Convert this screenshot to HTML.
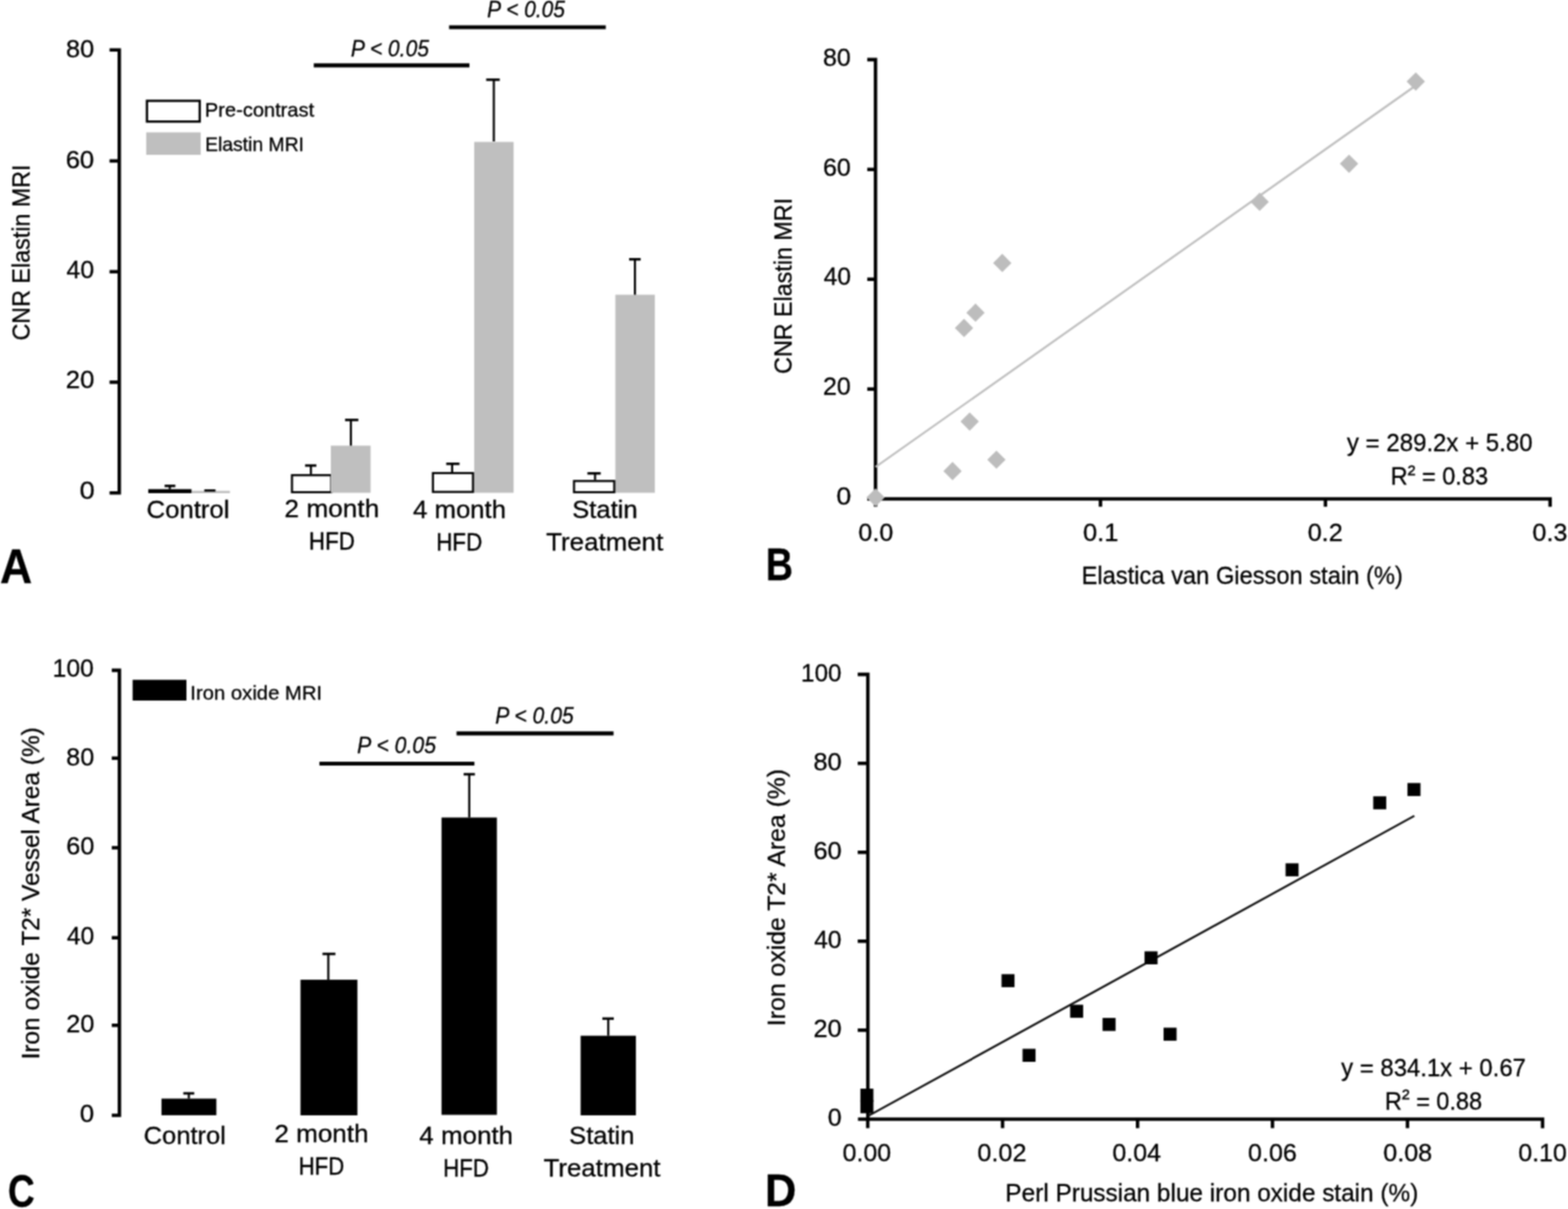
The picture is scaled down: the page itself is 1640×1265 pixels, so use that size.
<!DOCTYPE html>
<html lang="en">
<head>
<meta charset="utf-8">
<title>Elastin and iron oxide MRI figure</title>
<style>
html,body{margin:0;padding:0;background:#fff;}
body{width:1640px;height:1265px;overflow:hidden;}
svg{display:block;}
text{font-family:'Liberation Sans', sans-serif;fill:#000;stroke:#000;stroke-width:0.3px;}
</style>
</head>
<body>
<svg width="1640" height="1265" viewBox="0 0 1640 1265">
<defs>
<filter id="soft" x="0" y="0" width="1640" height="1265" filterUnits="userSpaceOnUse" color-interpolation-filters="sRGB">
<feConvolveMatrix order="3" kernelMatrix="1 2 1 2 4 2 1 2 1" divisor="16" edgeMode="duplicate"/>
</filter>
</defs>
<g filter="url(#soft)">
<rect x="0" y="0" width="1640" height="1265" fill="#fff"/>
<g id="graphics">
<path d="M114.6 52.3 H124.75 V515.8 H114.6" fill="none" stroke="#000" stroke-width="3.6" stroke-linejoin="miter"/>
<line x1="114.6" y1="168.4" x2="124.75" y2="168.4" stroke="#000" stroke-width="3.6" stroke-linecap="butt"/>
<line x1="114.6" y1="284.3" x2="124.75" y2="284.3" stroke="#000" stroke-width="3.6" stroke-linecap="butt"/>
<line x1="114.6" y1="399.9" x2="124.75" y2="399.9" stroke="#000" stroke-width="3.6" stroke-linecap="butt"/>
<rect x="153.70" y="105.50" width="55.20" height="21.70" fill="#fff" stroke="#000" stroke-width="2.4"/>
<rect x="152.9" y="138.5" width="57.00" height="23.50" fill="#bfbfbf"/>
<line x1="328.2" y1="68.4" x2="491.0" y2="68.4" stroke="#000" stroke-width="4.2" stroke-linecap="butt"/>
<line x1="469.7" y1="28.5" x2="633.6" y2="28.5" stroke="#000" stroke-width="4.2" stroke-linecap="butt"/>
<rect x="200.5" y="513.6" width="40.00" height="2.40" fill="#bfbfbf"/>
<rect x="496.0" y="148.5" width="41.20" height="367.10" fill="#bfbfbf"/>
<rect x="643.6" y="308.4" width="41.30" height="207.20" fill="#bfbfbf"/>
<rect x="156.20" y="512.90" width="43.00" height="2.00" fill="#fff" stroke="#000" stroke-width="2.2"/>
<rect x="305.40" y="497.20" width="41.10" height="17.80" fill="#fff" stroke="#000" stroke-width="2.2"/>
<rect x="346.0" y="466.3" width="41.60" height="49.30" fill="#bfbfbf"/>
<rect x="452.80" y="495.00" width="41.90" height="19.70" fill="#fff" stroke="#000" stroke-width="2.2"/>
<rect x="600.40" y="503.30" width="42.10" height="11.70" fill="#fff" stroke="#000" stroke-width="2.2"/>
<line x1="177.6" y1="511.8" x2="177.6" y2="508.4" stroke="#000" stroke-width="2.2" stroke-linecap="butt"/>
<line x1="172.2" y1="508.4" x2="183.4" y2="508.4" stroke="#000" stroke-width="2.6" stroke-linecap="butt"/>
<line x1="213.7" y1="513.2" x2="225.4" y2="513.2" stroke="#000" stroke-width="2.4" stroke-linecap="butt"/>
<line x1="325.2" y1="496.1" x2="325.2" y2="487.1" stroke="#000" stroke-width="2.2" stroke-linecap="butt"/>
<line x1="319.1" y1="487.1" x2="330.9" y2="487.1" stroke="#000" stroke-width="2.6" stroke-linecap="butt"/>
<line x1="367.0" y1="466.3" x2="367.0" y2="439.4" stroke="#000" stroke-width="2.2" stroke-linecap="butt"/>
<line x1="360.9" y1="439.4" x2="374.8" y2="439.4" stroke="#000" stroke-width="2.6" stroke-linecap="butt"/>
<line x1="472.9" y1="494.3" x2="472.9" y2="485.3" stroke="#000" stroke-width="2.2" stroke-linecap="butt"/>
<line x1="466.7" y1="485.3" x2="480.6" y2="485.3" stroke="#000" stroke-width="2.6" stroke-linecap="butt"/>
<line x1="516.5" y1="148.0" x2="516.5" y2="83.4" stroke="#000" stroke-width="2.2" stroke-linecap="butt"/>
<line x1="508.5" y1="83.4" x2="522.7" y2="83.4" stroke="#000" stroke-width="2.6" stroke-linecap="butt"/>
<line x1="622.4" y1="502.2" x2="622.4" y2="495.3" stroke="#000" stroke-width="2.2" stroke-linecap="butt"/>
<line x1="614.4" y1="495.3" x2="628.3" y2="495.3" stroke="#000" stroke-width="2.6" stroke-linecap="butt"/>
<line x1="664.1" y1="308.4" x2="664.1" y2="271.3" stroke="#000" stroke-width="2.2" stroke-linecap="butt"/>
<line x1="658.0" y1="271.3" x2="670.1" y2="271.3" stroke="#000" stroke-width="2.6" stroke-linecap="butt"/>
<path d="M907.1 62.4 H915.7 V522.0 H1621.3 V530.2" fill="none" stroke="#000" stroke-width="3.6" stroke-linejoin="miter"/>
<line x1="907.1" y1="177.3" x2="915.7" y2="177.3" stroke="#000" stroke-width="3.6" stroke-linecap="butt"/>
<line x1="907.1" y1="292.2" x2="915.7" y2="292.2" stroke="#000" stroke-width="3.6" stroke-linecap="butt"/>
<line x1="907.1" y1="407.1" x2="915.7" y2="407.1" stroke="#000" stroke-width="3.6" stroke-linecap="butt"/>
<line x1="907.1" y1="522.0" x2="915.7" y2="522.0" stroke="#000" stroke-width="3.6" stroke-linecap="butt"/>
<line x1="915.7" y1="522.0" x2="915.7" y2="530.2" stroke="#000" stroke-width="3.6" stroke-linecap="butt"/>
<line x1="1151.0" y1="522.0" x2="1151.0" y2="530.2" stroke="#000" stroke-width="3.6" stroke-linecap="butt"/>
<line x1="1386.3" y1="522.0" x2="1386.3" y2="530.2" stroke="#000" stroke-width="3.6" stroke-linecap="butt"/>
<line x1="915.7" y1="488.7" x2="1480.8" y2="89.5" stroke="#c0c0c0" stroke-width="2.2" stroke-linecap="butt"/>
<path d="M915.8 510.90 L925.40 520.5 L915.8 530.10 L906.20 520.5 Z" fill="#bdbdbd"/>
<path d="M996.3 483.30 L1005.90 492.9 L996.3 502.50 L986.70 492.9 Z" fill="#bdbdbd"/>
<path d="M1008.3 333.60 L1017.90 343.2 L1008.3 352.80 L998.70 343.2 Z" fill="#bdbdbd"/>
<path d="M1014.2 431.50 L1023.80 441.1 L1014.2 450.70 L1004.60 441.1 Z" fill="#bdbdbd"/>
<path d="M1020.3 317.60 L1029.90 327.2 L1020.3 336.80 L1010.70 327.2 Z" fill="#bdbdbd"/>
<path d="M1042.2 471.40 L1051.80 481.0 L1042.2 490.60 L1032.60 481.0 Z" fill="#bdbdbd"/>
<path d="M1048.3 265.60 L1057.90 275.2 L1048.3 284.80 L1038.70 275.2 Z" fill="#bdbdbd"/>
<path d="M1317.5 201.60 L1327.10 211.2 L1317.5 220.80 L1307.90 211.2 Z" fill="#bdbdbd"/>
<path d="M1411.0 161.70 L1420.60 171.3 L1411.0 180.90 L1401.40 171.3 Z" fill="#bdbdbd"/>
<path d="M1480.8 75.70 L1490.40 85.3 L1480.8 94.90 L1471.20 85.3 Z" fill="#bdbdbd"/>
<path d="M116.9 701.4 H124.9 V1167.0 H116.9" fill="none" stroke="#000" stroke-width="3.6" stroke-linejoin="miter"/>
<line x1="116.9" y1="793.3" x2="124.9" y2="793.3" stroke="#000" stroke-width="3.6" stroke-linecap="butt"/>
<line x1="116.9" y1="887.0" x2="124.9" y2="887.0" stroke="#000" stroke-width="3.6" stroke-linecap="butt"/>
<line x1="116.9" y1="981.2" x2="124.9" y2="981.2" stroke="#000" stroke-width="3.6" stroke-linecap="butt"/>
<line x1="116.9" y1="1072.8" x2="124.9" y2="1072.8" stroke="#000" stroke-width="3.6" stroke-linecap="butt"/>
<rect x="138.7" y="711.3" width="56.30" height="21.70" fill="#000"/>
<line x1="334.1" y1="799.0" x2="496.2" y2="799.0" stroke="#000" stroke-width="4.2" stroke-linecap="butt"/>
<line x1="477.5" y1="767.3" x2="641.7" y2="767.3" stroke="#000" stroke-width="4.2" stroke-linecap="butt"/>
<rect x="168.9" y="1149.5" width="57.40" height="17.40" fill="#000"/>
<rect x="314.3" y="1025.1" width="59.50" height="141.90" fill="#000"/>
<rect x="461.8" y="855.4" width="57.90" height="311.10" fill="#000"/>
<rect x="607.3" y="1083.7" width="57.80" height="83.30" fill="#000"/>
<line x1="197.5" y1="1149.5" x2="197.5" y2="1144.0" stroke="#000" stroke-width="2.2" stroke-linecap="butt"/>
<line x1="191.7" y1="1144.0" x2="203.2" y2="1144.0" stroke="#000" stroke-width="2.6" stroke-linecap="butt"/>
<line x1="343.4" y1="1025.1" x2="343.4" y2="998.1" stroke="#000" stroke-width="2.2" stroke-linecap="butt"/>
<line x1="337.3" y1="998.1" x2="350.8" y2="998.1" stroke="#000" stroke-width="2.6" stroke-linecap="butt"/>
<line x1="490.8" y1="855.4" x2="490.8" y2="810.1" stroke="#000" stroke-width="2.2" stroke-linecap="butt"/>
<line x1="484.9" y1="810.1" x2="496.7" y2="810.1" stroke="#000" stroke-width="2.6" stroke-linecap="butt"/>
<line x1="636.2" y1="1083.7" x2="636.2" y2="1065.8" stroke="#000" stroke-width="2.2" stroke-linecap="butt"/>
<line x1="630.0" y1="1065.8" x2="642.0" y2="1065.8" stroke="#000" stroke-width="2.6" stroke-linecap="butt"/>
<path d="M897.1 705.6 H907.7 V1171.0" fill="none" stroke="#000" stroke-width="3.6" stroke-linejoin="miter"/>
<line x1="897.1" y1="798.7" x2="907.7" y2="798.7" stroke="#000" stroke-width="3.6" stroke-linecap="butt"/>
<line x1="897.1" y1="891.8" x2="907.7" y2="891.8" stroke="#000" stroke-width="3.6" stroke-linecap="butt"/>
<line x1="897.1" y1="984.8" x2="907.7" y2="984.8" stroke="#000" stroke-width="3.6" stroke-linecap="butt"/>
<line x1="897.1" y1="1077.9" x2="907.7" y2="1077.9" stroke="#000" stroke-width="3.6" stroke-linecap="butt"/>
<path d="M897.4 1171.0 H1613.4 V1180.4" fill="none" stroke="#000" stroke-width="3.6" stroke-linejoin="miter"/>
<line x1="907.6" y1="1171.0" x2="907.6" y2="1180.4" stroke="#000" stroke-width="3.6" stroke-linecap="butt"/>
<line x1="1048.6" y1="1171.0" x2="1048.6" y2="1180.4" stroke="#000" stroke-width="3.6" stroke-linecap="butt"/>
<line x1="1189.8" y1="1171.0" x2="1189.8" y2="1180.4" stroke="#000" stroke-width="3.6" stroke-linecap="butt"/>
<line x1="1330.9" y1="1171.0" x2="1330.9" y2="1180.4" stroke="#000" stroke-width="3.6" stroke-linecap="butt"/>
<line x1="1472.1" y1="1171.0" x2="1472.1" y2="1180.4" stroke="#000" stroke-width="3.6" stroke-linecap="butt"/>
<line x1="907.6" y1="1167.9" x2="1479.3" y2="853.6" stroke="#111" stroke-width="2.2" stroke-linecap="butt"/>
<rect x="899.9" y="1139.1" width="13.60" height="13.60" fill="#000"/>
<rect x="899.9" y="1151.2" width="13.60" height="13.60" fill="#000"/>
<rect x="1047.5" y="1019.3" width="13.60" height="13.60" fill="#000"/>
<rect x="1069.5" y="1097.4" width="13.60" height="13.60" fill="#000"/>
<rect x="1119.3" y="1051.3" width="13.60" height="13.60" fill="#000"/>
<rect x="1153.2" y="1065.1" width="13.60" height="13.60" fill="#000"/>
<rect x="1197.1" y="995.4" width="13.60" height="13.60" fill="#000"/>
<rect x="1217.0" y="1075.3" width="13.60" height="13.60" fill="#000"/>
<rect x="1344.6" y="903.3" width="13.60" height="13.60" fill="#000"/>
<rect x="1436.3" y="833.2" width="13.60" height="13.60" fill="#000"/>
<rect x="1472.1" y="819.3" width="13.60" height="13.60" fill="#000"/>
</g>
<g id="texts">
<text x="68.97" y="59.64" font-size="26.48" textLength="29.47" lengthAdjust="spacingAndGlyphs">80</text>
<text x="68.68" y="175.54" font-size="26.20" textLength="29.82" lengthAdjust="spacingAndGlyphs">60</text>
<text x="69.46" y="291.44" font-size="26.20" textLength="28.90" lengthAdjust="spacingAndGlyphs">40</text>
<text x="68.74" y="406.04" font-size="25.63" textLength="29.93" lengthAdjust="spacingAndGlyphs">20</text>
<text x="83.26" y="522.05" font-size="25.35" textLength="15.84" lengthAdjust="spacingAndGlyphs">0</text>
<text x="30.70" y="356.27" font-size="26.23" textLength="184.17" lengthAdjust="spacingAndGlyphs" transform="rotate(-90 30.70 356.27)">CNR Elastin MRI</text>
<text x="214.28" y="122.40" font-size="20.43" textLength="114.33" lengthAdjust="spacingAndGlyphs">Pre-contrast</text>
<text x="214.42" y="158.31" font-size="19.32" textLength="103.57" lengthAdjust="spacingAndGlyphs">Elastin MRI</text>
<text x="367.01" y="58.56" font-size="24.37" font-style="italic" textLength="81.62" lengthAdjust="spacingAndGlyphs">P &lt; 0.05</text>
<text x="509.62" y="18.46" font-size="24.08" font-style="italic" textLength="81.37" lengthAdjust="spacingAndGlyphs">P &lt; 0.05</text>
<text x="153.25" y="541.94" font-size="26.35" textLength="86.81" lengthAdjust="spacingAndGlyphs">Control</text>
<text x="297.63" y="540.94" font-size="26.08" textLength="99.01" lengthAdjust="spacingAndGlyphs">2 month</text>
<text x="323.06" y="574.90" font-size="24.93" textLength="48.16" lengthAdjust="spacingAndGlyphs">HFD</text>
<text x="431.94" y="542.14" font-size="25.68" textLength="97.42" lengthAdjust="spacingAndGlyphs">4 month</text>
<text x="456.13" y="575.70" font-size="25.07" textLength="48.27" lengthAdjust="spacingAndGlyphs">HFD</text>
<text x="598.55" y="542.05" font-size="25.00" textLength="68.36" lengthAdjust="spacingAndGlyphs">Statin</text>
<text x="571.34" y="576.03" font-size="26.57" textLength="122.34" lengthAdjust="spacingAndGlyphs">Treatment</text>
<text x="0.08" y="609.59" font-size="49.12" font-weight="bold" textLength="33.65" lengthAdjust="spacingAndGlyphs">A</text>
<text x="860.80" y="68.64" font-size="26.48" textLength="29.16" lengthAdjust="spacingAndGlyphs">80</text>
<text x="860.76" y="183.54" font-size="26.48" textLength="29.18" lengthAdjust="spacingAndGlyphs">60</text>
<text x="861.45" y="298.44" font-size="26.48" textLength="28.66" lengthAdjust="spacingAndGlyphs">40</text>
<text x="860.73" y="413.34" font-size="26.48" textLength="29.17" lengthAdjust="spacingAndGlyphs">20</text>
<text x="874.65" y="528.43" font-size="26.62" textLength="15.58" lengthAdjust="spacingAndGlyphs">0</text>
<text x="897.86" y="565.54" font-size="26.48" textLength="36.38" lengthAdjust="spacingAndGlyphs">0.0</text>
<text x="1132.85" y="565.54" font-size="26.48" textLength="36.92" lengthAdjust="spacingAndGlyphs">0.1</text>
<text x="1367.66" y="565.54" font-size="26.48" textLength="36.77" lengthAdjust="spacingAndGlyphs">0.2</text>
<text x="1602.83" y="565.54" font-size="26.48" textLength="36.57" lengthAdjust="spacingAndGlyphs">0.3</text>
<text x="828.40" y="391.20" font-size="25.51" textLength="184.15" lengthAdjust="spacingAndGlyphs" transform="rotate(-90 828.40 391.20)">CNR Elastin MRI</text>
<text x="1131.29" y="610.90" font-size="25.65" textLength="335.87" lengthAdjust="spacingAndGlyphs">Elastica van Giesson stain (%)</text>
<text x="1408.72" y="471.60" font-size="26.23" textLength="194.28" lengthAdjust="spacingAndGlyphs">y = 289.2x + 5.80</text>
<text x="1454.40" y="507.30" font-size="25.94" textLength="101.94" lengthAdjust="spacingAndGlyphs">R<tspan dy="-0.135em">²</tspan><tspan dy="0.135em"> = 0.83</tspan></text>
<text x="801.04" y="607.40" font-size="48.41" font-weight="bold" textLength="28.34" lengthAdjust="spacingAndGlyphs">B</text>
<text x="55.08" y="707.64" font-size="26.48" textLength="42.99" lengthAdjust="spacingAndGlyphs">100</text>
<text x="69.37" y="800.54" font-size="26.20" textLength="29.10" lengthAdjust="spacingAndGlyphs">80</text>
<text x="69.27" y="894.24" font-size="26.20" textLength="29.38" lengthAdjust="spacingAndGlyphs">60</text>
<text x="69.90" y="988.44" font-size="26.20" textLength="28.52" lengthAdjust="spacingAndGlyphs">40</text>
<text x="69.16" y="1080.04" font-size="26.20" textLength="29.45" lengthAdjust="spacingAndGlyphs">20</text>
<text x="83.42" y="1174.24" font-size="25.92" textLength="14.96" lengthAdjust="spacingAndGlyphs">0</text>
<text x="41.00" y="1108.51" font-size="25.65" textLength="347.64" lengthAdjust="spacingAndGlyphs" transform="rotate(-90 41.00 1108.51)">Iron oxide T2* Vessel Area (%)</text>
<text x="199.13" y="731.89" font-size="20.54" textLength="137.80" lengthAdjust="spacingAndGlyphs">Iron oxide MRI</text>
<text x="373.48" y="788.46" font-size="24.23" font-style="italic" textLength="82.64" lengthAdjust="spacingAndGlyphs">P &lt; 0.05</text>
<text x="517.91" y="757.36" font-size="24.23" font-style="italic" textLength="82.18" lengthAdjust="spacingAndGlyphs">P &lt; 0.05</text>
<text x="150.37" y="1196.75" font-size="25.27" textLength="85.81" lengthAdjust="spacingAndGlyphs">Control</text>
<text x="286.90" y="1194.94" font-size="25.95" textLength="98.65" lengthAdjust="spacingAndGlyphs">2 month</text>
<text x="312.23" y="1228.70" font-size="25.51" textLength="48.03" lengthAdjust="spacingAndGlyphs">HFD</text>
<text x="438.62" y="1197.24" font-size="25.68" textLength="98.03" lengthAdjust="spacingAndGlyphs">4 month</text>
<text x="463.45" y="1230.80" font-size="25.22" textLength="48.08" lengthAdjust="spacingAndGlyphs">HFD</text>
<text x="595.35" y="1196.95" font-size="25.00" textLength="68.31" lengthAdjust="spacingAndGlyphs">Statin</text>
<text x="568.55" y="1231.04" font-size="26.43" textLength="122.18" lengthAdjust="spacingAndGlyphs">Treatment</text>
<text x="8.16" y="1263.22" font-size="48.45" font-weight="bold" textLength="28.10" lengthAdjust="spacingAndGlyphs">C</text>
<text x="837.83" y="712.64" font-size="26.48" textLength="42.42" lengthAdjust="spacingAndGlyphs">100</text>
<text x="850.72" y="805.74" font-size="26.48" textLength="29.72" lengthAdjust="spacingAndGlyphs">80</text>
<text x="850.66" y="898.84" font-size="26.48" textLength="29.71" lengthAdjust="spacingAndGlyphs">60</text>
<text x="851.44" y="991.84" font-size="26.48" textLength="28.86" lengthAdjust="spacingAndGlyphs">40</text>
<text x="850.66" y="1084.94" font-size="26.48" textLength="29.70" lengthAdjust="spacingAndGlyphs">20</text>
<text x="865.67" y="1178.04" font-size="26.48" textLength="14.59" lengthAdjust="spacingAndGlyphs">0</text>
<text x="881.29" y="1215.44" font-size="26.20" textLength="50.87" lengthAdjust="spacingAndGlyphs">0.00</text>
<text x="1022.30" y="1215.44" font-size="26.20" textLength="51.37" lengthAdjust="spacingAndGlyphs">0.02</text>
<text x="1163.53" y="1215.44" font-size="26.20" textLength="50.90" lengthAdjust="spacingAndGlyphs">0.04</text>
<text x="1305.31" y="1215.44" font-size="26.20" textLength="51.19" lengthAdjust="spacingAndGlyphs">0.06</text>
<text x="1446.88" y="1215.44" font-size="26.20" textLength="51.10" lengthAdjust="spacingAndGlyphs">0.08</text>
<text x="1587.89" y="1215.44" font-size="26.20" textLength="50.76" lengthAdjust="spacingAndGlyphs">0.10</text>
<text x="820.60" y="1073.63" font-size="26.09" textLength="269.12" lengthAdjust="spacingAndGlyphs" transform="rotate(-90 820.60 1073.63)">Iron oxide T2* Area (%)</text>
<text x="1051.54" y="1257.00" font-size="26.52" textLength="431.86" lengthAdjust="spacingAndGlyphs">Perl Prussian blue iron oxide stain (%)</text>
<text x="1402.87" y="1125.60" font-size="26.67" textLength="193.07" lengthAdjust="spacingAndGlyphs">y = 834.1x + 0.67</text>
<text x="1448.40" y="1160.90" font-size="25.80" textLength="101.79" lengthAdjust="spacingAndGlyphs">R<tspan dy="-0.135em">²</tspan><tspan dy="0.135em"> = 0.88</tspan></text>
<text x="800.05" y="1262.40" font-size="47.25" font-weight="bold" textLength="32.99" lengthAdjust="spacingAndGlyphs">D</text>
</g>
</g>
</svg>
</body>
</html>
